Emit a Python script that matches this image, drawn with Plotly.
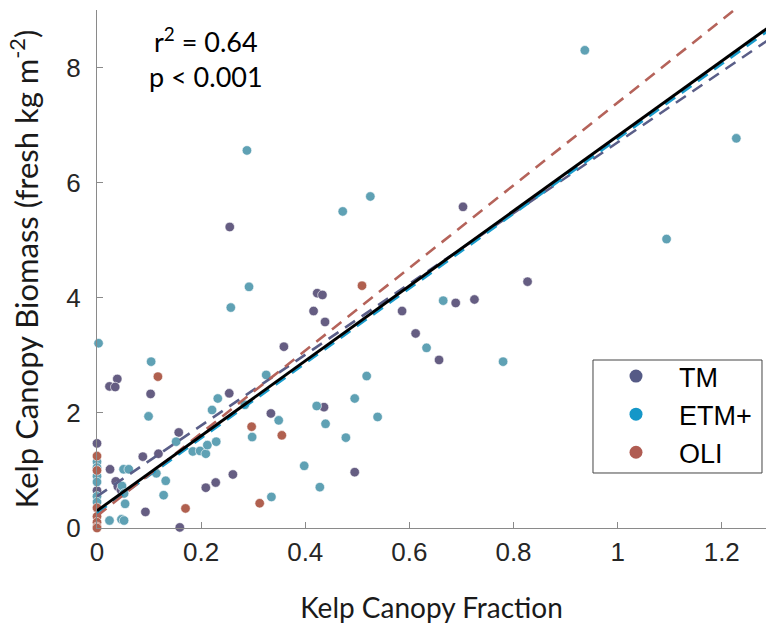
import numpy as np
import plotly.graph_objects as go

# ---------------- data ----------------
tm_x = [0.255, 0.423, 0.433, 0.416, 0.438, 0.703, 0.827, 0.689, 0.725, 0.586,
        0.612, 0.359, 0.657, 0.436, 0.334, 0.495, 0.039, 0.024, 0.035, 0.103,
        0.254, 0.157, 0.118, 0.088, 0.209, 0.228, 0.261, 0.093, 0.159, 0.025,
        0.036, 0.040, 0.046, 0.0, 0.0]
tm_y = [5.23, 4.08, 4.05, 3.77, 3.58, 5.58, 4.28, 3.91, 3.97, 3.77,
        3.38, 3.15, 2.92, 2.10, 1.99, 0.97, 2.59, 2.46, 2.45, 2.33,
        2.34, 1.66, 1.29, 1.24, 0.70, 0.79, 0.93, 0.28, 0.01, 1.02,
        0.81, 0.72, 0.66, 1.47, 0.65]

etm_x = [0.937, 1.228, 1.094, 0.288, 0.525, 0.472, 0.292, 0.257, 0.665, 0.633,
         0.780, 0.325, 0.518, 0.495, 0.422, 0.539, 0.349, 0.439, 0.478, 0.398,
         0.428, 0.335, 0.104, 0.099, 0.232, 0.221, 0.284, 0.298, 0.152, 0.184,
         0.198, 0.209, 0.212, 0.229, 0.114, 0.132, 0.128, 0.024, 0.047, 0.052,
         0.054, 0.051, 0.061, 0.048, 0.052, 0.003, 0.0, 0.0, 0.0, 0.0, 0.0, 0.0]
etm_y = [8.30, 6.77, 5.02, 6.56, 5.76, 5.50, 4.19, 3.83, 3.95, 3.13,
         2.89, 2.66, 2.64, 2.25, 2.12, 1.93, 1.87, 1.81, 1.57, 1.08,
         0.71, 0.54, 2.89, 1.94, 2.25, 2.05, 2.14, 1.58, 1.50, 1.33,
         1.34, 1.29, 1.44, 1.50, 0.95, 0.82, 0.57, 0.13, 0.15, 0.13,
         0.42, 1.02, 1.02, 0.73, 0.60, 3.21, 1.15, 1.05, 0.90, 0.80, 0.55, 0.45]

oli_x = [0.509, 0.117, 0.297, 0.355, 0.3125, 0.170, 0.0, 0.0, 0.0, 0.0, 0.0, 0.0, 0.0]
oli_y = [4.21, 2.63, 1.76, 1.61, 0.43, 0.34, 1.25, 1.00, 0.35, 0.20, 0.10, 0.02, 0.0]

# regression lines: [intercept, slope]
fit_tm = [0.55, 6.15]
fit_etm = [0.26, 6.50]
fit_oli = [0.21, 7.18]
fit_all = [0.30, 6.51]

series_names = ["TM", "ETM+", "OLI"]
annot_lines = ["r<sup>2</sup> = 0.64", "p < 0.001"]
x_ticks = [0, 0.2, 0.4, 0.6, 0.8, 1, 1.2]
x_tick_text = ["0", "0.2", "0.4", "0.6", "0.8", "1", "1.2"]
y_ticks = [0, 2, 4, 6, 8]

# ---------------- styling ----------------
X_MAX = 1.285
Y_MAX = 9.0
pt_col = {"TM": "#655d82", "ETM+": "#5fa1b4", "OLI": "#b0604f"}
leg_col = {"TM": "#555a86", "ETM+": "#1597c8", "OLI": "#b05c52"}
line_col = {"TM": "#5a5e88", "ETM+": "#1a9ccc", "OLI": "#b5635a"}
TICK_FONT = dict(family="Liberation Sans", size=26, color="#262626")
TITLE_FONT = "Lato"

fig = go.Figure()

pts = {"TM": (tm_x, tm_y), "ETM+": (etm_x, etm_y), "OLI": (oli_x, oli_y)}
for name in series_names:
    x, y = pts[name]
    fig.add_trace(go.Scatter(
        x=x, y=y, mode="markers", showlegend=False,
        marker=dict(size=9.5, color=pt_col[name], line=dict(width=0.6, color="white")),
        cliponaxis=False,
    ))

xl = np.array([0.0, X_MAX + 0.05])
fits = {"TM": fit_tm, "ETM+": fit_etm, "OLI": fit_oli}
for name in series_names:
    b0, b1 = fits[name]
    fig.add_trace(go.Scatter(
        x=xl, y=b0 + b1 * xl, mode="lines", showlegend=False,
        line=dict(color=line_col[name], width=2.6, dash="12px,8px"),
    ))
fig.add_trace(go.Scatter(
    x=xl, y=fit_all[0] + fit_all[1] * xl, mode="lines", showlegend=False,
    line=dict(color="black", width=3),
))

# legend-only entries
for name in series_names:
    fig.add_trace(go.Scatter(
        x=[None], y=[None], mode="markers", name=name,
        marker=dict(size=13, color=leg_col[name]),
    ))

fig.add_annotation(
    text="<br>".join(annot_lines), xref="paper", yref="paper",
    x=0.163, y=0.908, xanchor="center", yanchor="middle", showarrow=False,
    font=dict(family=TITLE_FONT, size=27, color="black"), align="center",
)

# legend frame
fig.add_shape(type="rect", xref="paper", yref="paper",
              x0=0.7414, x1=0.994, y0=0.1062, y1=0.3243,
              line=dict(color="#444444", width=1), fillcolor="rgba(0,0,0,0)", layer="above")

axis_common = dict(
    showline=True, linecolor="#8a8a8a", linewidth=1.2, showgrid=False, zeroline=False,
    ticks="inside", ticklen=6, tickcolor="#8a8a8a", mirror=False,
    tickfont=TICK_FONT, automargin=False,
)
fig.update_xaxes(range=[0, X_MAX], tickvals=x_ticks, ticktext=x_tick_text,
                 ticklabelstandoff=1,
                 title=dict(text="Kelp Canopy Fraction",
                            font=dict(family=TITLE_FONT, size=28, color="#1a1a1a"), standoff=32),
                 **axis_common)
fig.update_yaxes(range=[0, Y_MAX], tickvals=y_ticks, ticklabelstandoff=10,
                 title=dict(text="Kelp Canopy Biomass (fresh kg m<sup>-2</sup>)",
                            font=dict(family=TITLE_FONT, size=31, color="#1a1a1a"), standoff=18),
                 **axis_common)

fig.update_layout(
    width=766, height=624,
    margin=dict(l=97, r=0, t=10, b=96, autoexpand=False),
    paper_bgcolor="white", plot_bgcolor="white",
    legend=dict(x=0.7414, y=0.3398, xanchor="left", yanchor="top",
                borderwidth=0, bgcolor="rgba(0,0,0,0)",
                font=dict(family="Liberation Sans", size=27, color="black"),
                itemwidth=76, tracegroupgap=0),
)

fig.write_html("out.html",
               config={"displayModeBar": False},
               post_script="document.body.style.margin='0px';document.body.style.padding='0px';")
